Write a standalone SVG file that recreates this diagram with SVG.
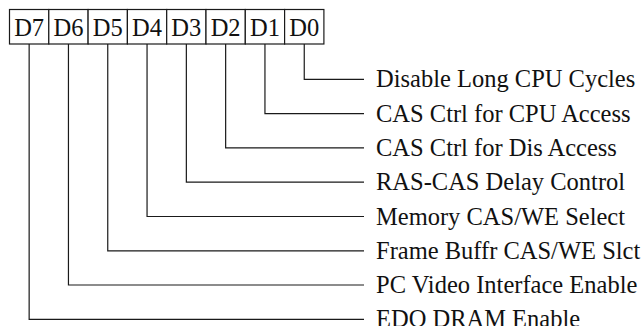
<svg xmlns="http://www.w3.org/2000/svg" width="644" height="326" viewBox="0 0 644 326">
  <style>
    .cell { fill: #fff; stroke: #1a1a1a; stroke-width: 1.2; }
    .bit { font-family: "Liberation Serif", "Times New Roman", serif; font-size: 24.5px; fill: #111; text-anchor: middle; }
    .lbl { font-family: "Liberation Serif", "Times New Roman", serif; font-size: 24.5px; fill: #111; }
    .wire { fill: none; stroke: #1a1a1a; stroke-width: 1.2; }
  </style>
  <rect width="644" height="326" fill="#fff"/>
  <g id="register">
    <g id="cell-D7"><rect class="cell" x="9.5" y="9.5" width="39.3" height="34.5"/><text class="bit" x="29.15" y="36">D7</text></g>
    <g id="cell-D6"><rect class="cell" x="48.8" y="9.5" width="39.3" height="34.5"/><text class="bit" x="68.45" y="36">D6</text></g>
    <g id="cell-D5"><rect class="cell" x="88.1" y="9.5" width="39.3" height="34.5"/><text class="bit" x="107.75" y="36">D5</text></g>
    <g id="cell-D4"><rect class="cell" x="127.4" y="9.5" width="39.3" height="34.5"/><text class="bit" x="147.05" y="36">D4</text></g>
    <g id="cell-D3"><rect class="cell" x="166.7" y="9.5" width="39.3" height="34.5"/><text class="bit" x="186.35" y="36">D3</text></g>
    <g id="cell-D2"><rect class="cell" x="206" y="9.5" width="39.3" height="34.5"/><text class="bit" x="225.65" y="36">D2</text></g>
    <g id="cell-D1"><rect class="cell" x="245.3" y="9.5" width="39.3" height="34.5"/><text class="bit" x="264.95" y="36">D1</text></g>
    <g id="cell-D0"><rect class="cell" x="284.6" y="9.5" width="39.3" height="34.5"/><text class="bit" x="304.25" y="36">D0</text></g>
  </g>
  <g id="connectors">
    <path class="wire" d="M304.25 44 V79.3 H364"/>
    <path class="wire" d="M264.95 44 V113.6 H364"/>
    <path class="wire" d="M225.65 44 V147.9 H364"/>
    <path class="wire" d="M186.35 44 V182.2 H364"/>
    <path class="wire" d="M147.05 44 V216.5 H364"/>
    <path class="wire" d="M107.75 44 V250.8 H364"/>
    <path class="wire" d="M68.45 44 V285 H364"/>
    <path class="wire" d="M29.15 44 V319.3 H364"/>
  </g>
  <g id="label-D0"><text class="lbl" x="376" y="87.3">Disable Long CPU Cycles</text></g>
  <g id="label-D1"><text class="lbl" x="376" y="121.6">CAS Ctrl for CPU Access</text></g>
  <g id="label-D2"><text class="lbl" x="376" y="155.9">CAS Ctrl for Dis Access</text></g>
  <g id="label-D3"><text class="lbl" x="376" y="190.2">RAS-CAS Delay Control</text></g>
  <g id="label-D4"><text class="lbl" x="376" y="224.5">Memory CAS/WE Select</text></g>
  <g id="label-D5"><text class="lbl" x="376" y="258.8">Frame Buffr CAS/WE Slct</text></g>
  <g id="label-D6"><text class="lbl" x="376" y="293">PC Video Interface Enable</text></g>
  <g id="label-D7"><text class="lbl" x="376" y="327.3">EDO DRAM Enable</text></g>
</svg>
